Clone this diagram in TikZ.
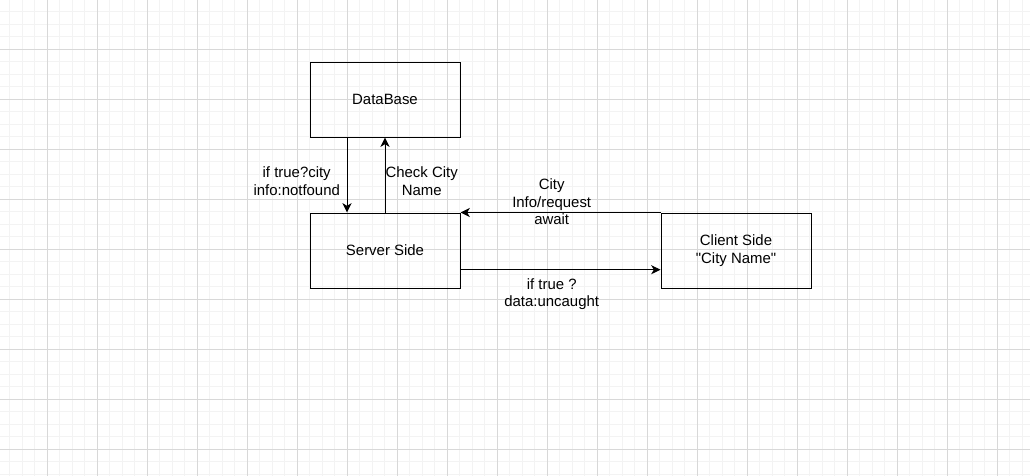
\documentclass[tikz,border=0pt]{standalone}
\usepackage{fontspec}
\setmainfont{Liberation Sans}[Ligatures=TeXOff]
\usepackage{tikz}
\usetikzlibrary{arrows.meta,positioning}
\definecolor{minorline}{RGB}{243,243,243}
\definecolor{majorline}{RGB}{216,216,216}

\begin{document}
\begin{tikzpicture}[x=0.75pt,y=0.75pt,font=\fontsize{11.2}{13.1}\selectfont]
\tikzstyle{side}=[draw, shape=rectangle, line width=0.75pt, minimum height=56.25pt, minimum width=112.5pt, align=center]
\tikzstyle{lbl}=[align=center, inner sep=0pt]
\tikzstyle{link}=[-{Stealth[length=7pt,width=6.8pt,inset=2pt]}, line width=0.75pt]
\tikzstyle{minorgrid}=[draw=minorline, line width=0.75pt]
\tikzstyle{majorgrid}=[draw=majorline, line width=0.75pt]
\useasboundingbox[fill=white] (0,0) rectangle (1030,-475);
\clip (0,0) rectangle (1030,-475);
% grid paper
\begin{scope}[shift={(-3,1)}]
\draw[minorgrid, step=9.375pt] (-20,20) grid (1060,-500);
\draw[majorgrid, step=37.5pt] (-20,20) grid (1060,-500);
\end{scope}

\node[side] (db) at (385,-99.5) {DataBase};
\node[side] (server) [below=56.25pt of db] {Server Side};
\node[side] (client) [right=150pt of server] {Client Side\\"City Name"};

\draw[link] ([xshift=-28.5pt]db.south) to ([xshift=-28.5pt]server.north);
\draw[link] (server.north) to (db.south);
\draw[link] (client.north west) to (server.north east);
\draw[link] ([yshift=-14.4pt]server.east) to ([yshift=-14.4pt]client.west);

\node[lbl] (notfound) at (296.7,-181) {if true?city\\info:notfound};
\node[lbl] (check) at (421.7,-181) {Check City\\Name};
\node[lbl] (request) at (551.7,-202) {City\\Info/request\\await};
\node[lbl] (uncaught) at (551.7,-294) {if true ?\\data:uncaught};

\end{tikzpicture}
\end{document}
